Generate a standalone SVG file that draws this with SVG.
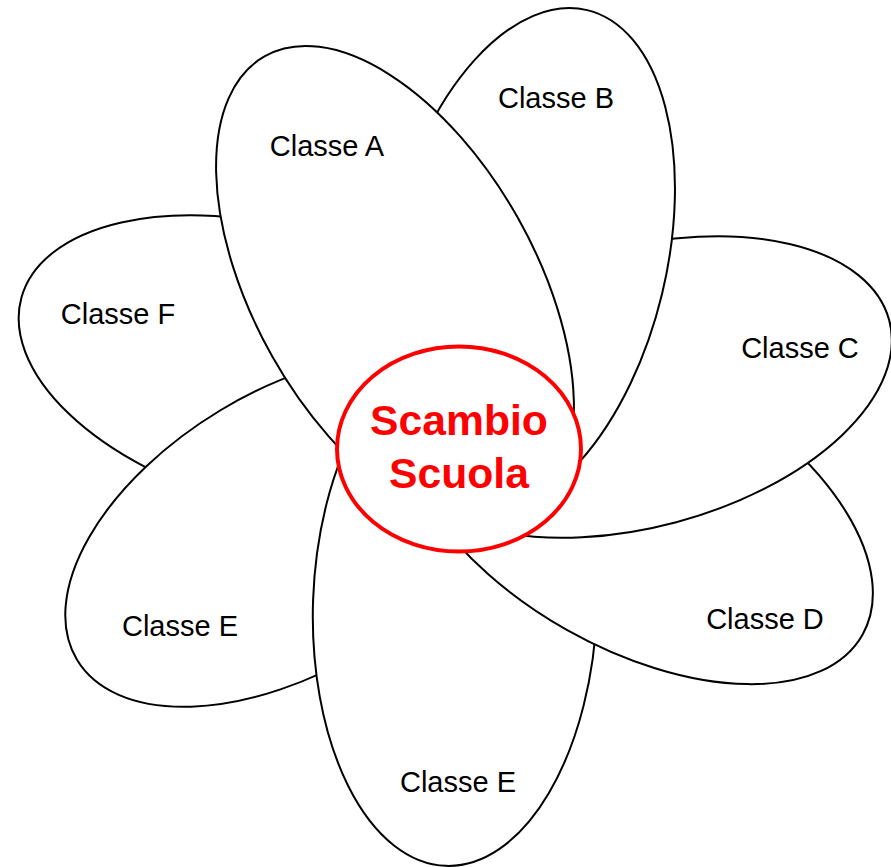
<svg xmlns="http://www.w3.org/2000/svg" width="891" height="867" viewBox="0 0 891 867">
<style>
.petal{fill:#ffffff;stroke:#000000;stroke-width:2}
.lbl{font-family:"Liberation Sans",Arial,sans-serif;font-size:29px;fill:#000000;text-anchor:middle}
.hub{fill:#ffffff;stroke:#ff0000;stroke-width:4}
.hubtxt{font-family:"Liberation Sans",Arial,sans-serif;font-size:42.67px;font-weight:bold;fill:#ff0000;text-anchor:middle}
</style>
<rect width="891" height="867" fill="#ffffff"/>
<g id="connectors"></g>
<g id="petal-f">
<ellipse class="petal" cx="272" cy="367" rx="260" ry="140" transform="rotate(15.5 272 367)"/>
<text class="lbl" x="118" y="324">Classe F</text>
</g>
<g id="petal-e-left">
<ellipse class="petal" cx="293" cy="530" rx="252" ry="140" transform="rotate(-31 293 530)"/>
<text class="lbl" x="180" y="636">Classe E</text>
</g>
<g id="petal-e-bottom">
<ellipse class="petal" cx="455" cy="605" rx="142" ry="261" transform="rotate(2 455 605)"/>
<text class="lbl" x="458" y="792">Classe E</text>
</g>
<g id="petal-d">
<ellipse class="petal" cx="636" cy="507" rx="260" ry="141" transform="rotate(29.4 636 507)"/>
<text class="lbl" x="765" y="629">Classe D</text>
</g>
<g id="petal-c">
<ellipse class="petal" cx="640" cy="387" rx="258" ry="140" transform="rotate(-15 640 387)"/>
<text class="lbl" x="800" y="358">Classe C</text>
</g>
<g id="petal-b">
<ellipse class="petal" cx="527" cy="261" rx="139" ry="258" transform="rotate(13.5 527 261)"/>
<text class="lbl" x="556" y="108">Classe B</text>
</g>
<g id="petal-a">
<ellipse class="petal" cx="395" cy="287" rx="265" ry="141" transform="rotate(60.6 395 287)"/>
<text class="lbl" x="327" y="156">Classe A</text>
</g>
<g id="hub">
<ellipse class="hub" cx="459" cy="449" rx="122" ry="102.5"/>
<text class="hubtxt" x="459" y="435">Scambio</text>
<text class="hubtxt" x="459" y="488">Scuola</text>
</g>
</svg>
